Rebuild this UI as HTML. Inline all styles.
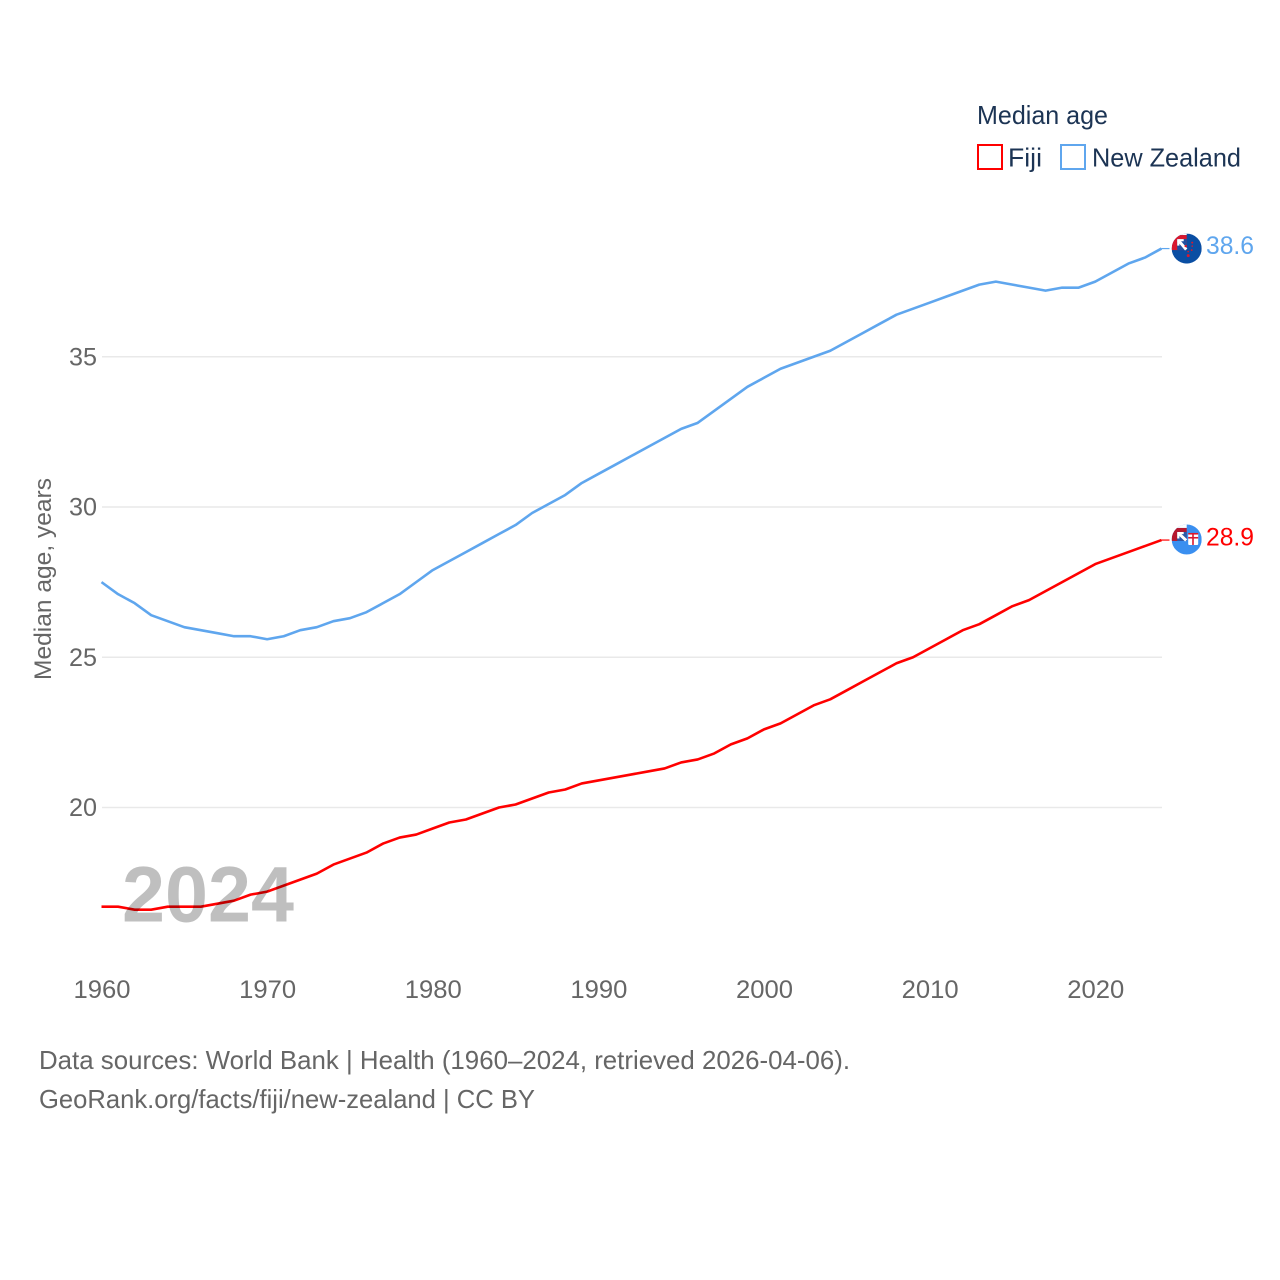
<!DOCTYPE html>
<html lang="en">
<head>
<meta charset="utf-8">
<title>Median age: Fiji and New Zealand</title>
<style>
html,body{margin:0;padding:0;background:#fff;}
svg{display:block;font-family:"Liberation Sans",sans-serif;}
</style>
</head>
<body>
<svg id="chart" width="1280" height="1280" viewBox="0 0 1280 1280" xmlns="http://www.w3.org/2000/svg">
  <defs>
    <clipPath id="flag-clip-nz"><circle id="clip-nz" r="15"></circle></clipPath>
    <clipPath id="flag-clip-fj"><circle id="clip-fj" r="15"></circle></clipPath>
  </defs>
  <rect width="1280" height="1280" fill="#fff"></rect>
  <g id="grid"></g>
  <g id="yticks"></g>
  <g id="xticks"></g>
  <text transform="translate(51,680) rotate(-90)" font-size="24" fill="#666" textLength="202" lengthAdjust="spacingAndGlyphs">Median age, years</text>
  <g id="series"></g>
  <text x="122" y="921.5" font-size="79" font-weight="700" fill="#000" fill-opacity="0.25" textLength="172" lengthAdjust="spacingAndGlyphs">2024</text>
  <g id="markers"></g>
  <g>
    <text x="977" y="124" font-size="26" fill="#1c3454" textLength="131" lengthAdjust="spacingAndGlyphs">Median age</text>
    <rect x="978" y="145" width="24" height="24" fill="#fff" stroke="#ff0000" stroke-width="2"></rect>
    <text x="1008" y="166.5" font-size="26" fill="#1c3454" textLength="34" lengthAdjust="spacingAndGlyphs">Fiji</text>
    <rect x="1061" y="145" width="24" height="24" fill="#fff" stroke="#5fa6ee" stroke-width="2"></rect>
    <text x="1092" y="166.5" font-size="26" fill="#1c3454" textLength="149" lengthAdjust="spacingAndGlyphs">New Zealand</text>
  </g>
  <g>
    <text x="39" y="1069" font-size="26" fill="#666" textLength="811" lengthAdjust="spacingAndGlyphs">Data sources: World Bank | Health (1960–2024, retrieved 2026-04-06).</text>
    <text x="39" y="1108" font-size="26" fill="#666" textLength="496" lengthAdjust="spacingAndGlyphs">GeoRank.org/facts/fiji/new-zealand | CC BY</text>
  </g>
</svg>
<script>
const years = [1960,1961,1962,1963,1964,1965,1966,1967,1968,1969,1970,1971,1972,1973,1974,1975,1976,1977,1978,1979,1980,1981,1982,1983,1984,1985,1986,1987,1988,1989,1990,1991,1992,1993,1994,1995,1996,1997,1998,1999,2000,2001,2002,2003,2004,2005,2006,2007,2008,2009,2010,2011,2012,2013,2014,2015,2016,2017,2018,2019,2020,2021,2022,2023,2024];
const fijiValues = [16.7,16.7,16.6,16.6,16.7,16.7,16.7,16.8,16.9,17.1,17.2,17.4,17.6,17.8,18.1,18.3,18.5,18.8,19.0,19.1,19.3,19.5,19.6,19.8,20.0,20.1,20.3,20.5,20.6,20.8,20.9,21.0,21.1,21.2,21.3,21.5,21.6,21.8,22.1,22.3,22.6,22.8,23.1,23.4,23.6,23.9,24.2,24.5,24.8,25.0,25.3,25.6,25.9,26.1,26.4,26.7,26.9,27.2,27.5,27.8,28.1,28.3,28.5,28.7,28.9];
const newZealandValues = [27.5,27.1,26.8,26.4,26.2,26.0,25.9,25.8,25.7,25.7,25.6,25.7,25.9,26.0,26.2,26.3,26.5,26.8,27.1,27.5,27.9,28.2,28.5,28.8,29.1,29.4,29.8,30.1,30.4,30.8,31.1,31.4,31.7,32.0,32.3,32.6,32.8,33.2,33.6,34.0,34.3,34.6,34.8,35.0,35.2,35.5,35.8,36.1,36.4,36.6,36.8,37.0,37.2,37.4,37.5,37.4,37.3,37.2,37.3,37.3,37.5,37.8,38.1,38.3,38.6];
const yTicks = [20,25,30,35];
const xTicks = [1960,1970,1980,1990,2000,2010,2020];

const NS = 'http://www.w3.org/2000/svg';
const xScale = function (year) { return 101.5 + (year - 1960) * (1161.5 - 101.5) / 64; };
const yScale = function (value) { return 807.5 - (value - 20) * 30.05; };

function make(tag, parent, attrs) {
  const el = document.createElementNS(NS, tag);
  Object.keys(attrs).forEach(function (k) { el.setAttribute(k, attrs[k]); });
  parent.appendChild(el);
  return el;
}

const gridGroup = document.getElementById('grid');
const yGroup = document.getElementById('yticks');
const xGroup = document.getElementById('xticks');
const seriesGroup = document.getElementById('series');
const markerGroup = document.getElementById('markers');

yTicks.forEach(function (tick) {
  const line = make('line', gridGroup, {x1: 102, x2: 1162, y1: yScale(tick), y2: yScale(tick), stroke: '#e9e9e9', 'stroke-width': 1.5});
  
  
  const label = make('text', yGroup, {x: 97, y: yScale(tick) + 8.5, 'text-anchor': 'end', 'font-size': 25, fill: '#666', textLength: 28, lengthAdjust: 'spacingAndGlyphs'});
  label.textContent = tick;
  
  
});

xTicks.forEach(function (tick) {
  const label = make('text', xGroup, {x: xScale(tick) + 0.5, y: 998, 'text-anchor': 'middle', 'font-size': 25, fill: '#666', textLength: 57, lengthAdjust: 'spacingAndGlyphs'});
  label.textContent = tick;
  
  
});

function drawSeries(values, color, name) {
  const d = values.map(function (v, i) {
    return (i ? 'L' : 'M') + xScale(years[i]).toFixed(2) + ' ' + yScale(v).toFixed(2);
  }).join(' ');
  const path = make('path', seriesGroup, {d: d, fill: 'none', stroke: color, 'stroke-width': 2.6, 'stroke-linejoin': 'round'});
  
  
  const lastValue = values[values.length - 1];
  const lastX = xScale(years[years.length - 1]);
  const connector = make('line', seriesGroup, {x1: lastX, x2: lastX + 8, y1: yScale(lastValue), y2: yScale(lastValue), stroke: color, 'stroke-width': 1.2});
  
  
  const valueLabel = make('text', markerGroup, {x: 1206, y: yScale(lastValue) + 5.5, 'font-size': 25, fill: color, textLength: 48, lengthAdjust: 'spacingAndGlyphs'});
  valueLabel.textContent = lastValue.toFixed(1);
  
  
}

function drawUnionCanton(parent, cx, cy, top, red, blue) {
  const tipX = cx - 9.5;
  const tipY = cy + top + 4;
  make('rect', parent, {x: cx - 15, y: cy + top, width: 15, height: 1.5 - top, fill: red});
  make('rect', parent, {x: tipX, y: tipY, width: 9.5, height: -top - 2.5, fill: blue});
  make('line', parent, {x1: tipX + 1, y1: tipY + 1, x2: cx - 0.5, y2: cy + 1, stroke: '#ffffff', 'stroke-width': 3});
  make('path', parent, {d: 'M' + tipX + ' ' + tipY + 'h6.5v2.2h-4.3v4.3h-2.2z', fill: '#ffffff'});
}

function drawNzFlag(cx, cy) {
  const clip = document.getElementById('clip-nz');
  clip.setAttribute('cx', cx);
  clip.setAttribute('cy', cy);
  const g = make('g', markerGroup, {'clip-path': 'url(#flag-clip-nz)'});
  
  
  make('rect', g, {x: cx - 15, y: cy - 15, width: 30, height: 30, fill: '#0a4ea3'});
  make('rect', g, {x: cx - 15, y: cy - 15, width: 15, height: 1.5, fill: '#ffffff'});
  drawUnionCanton(g, cx, cy, -13.5, '#d8182f', '#1f4fa0');
  [[-1, -2.5, 1.2], [5.5, -6, 1], [5, 1.5, 0.9], [1.5, 3, 0.8], [1.5, 7, 1.5], [5.5, -2.5, 0.8]].forEach(function (s) {
    make('circle', g, {cx: cx + s[0], cy: cy + s[1], r: s[2], fill: '#d8182f'});
  });
}

function drawFijiFlag(cx, cy) {
  const clip = document.getElementById('clip-fj');
  clip.setAttribute('cx', cx);
  clip.setAttribute('cy', cy);
  const g = make('g', markerGroup, {'clip-path': 'url(#flag-clip-fj)'});
  
  
  make('rect', g, {x: cx - 15, y: cy - 15, width: 30, height: 30, fill: '#3a8ff0'});
  make('rect', g, {x: cx - 15, y: cy - 15, width: 15, height: 3.5, fill: '#ffffff'});
  drawUnionCanton(g, cx, cy, -11.5, '#b5182f', '#2a5aa8');
  make('rect', g, {x: cx + 1.5, y: cy - 6.5, width: 10, height: 12, rx: 1, fill: '#ffffff'});
  make('rect', g, {x: cx + 5.5, y: cy - 6.5, width: 1.6, height: 12, fill: '#d8182f'});
  make('rect', g, {x: cx + 1.5, y: cy - 2.5, width: 10, height: 1.6, fill: '#d8182f'});
  make('rect', g, {x: cx + 1.5, y: cy - 6.5, width: 10, height: 1.6, fill: '#d8182f'});
}

drawSeries(fijiValues, '#ff0000', 'fiji');
drawSeries(newZealandValues, '#5fa6ee', 'new-zealand');
drawNzFlag(1186.7, yScale(newZealandValues[newZealandValues.length - 1]));
drawFijiFlag(1186.7, yScale(fijiValues[fijiValues.length - 1]) - 0.6);
</script>
</body>
</html>
